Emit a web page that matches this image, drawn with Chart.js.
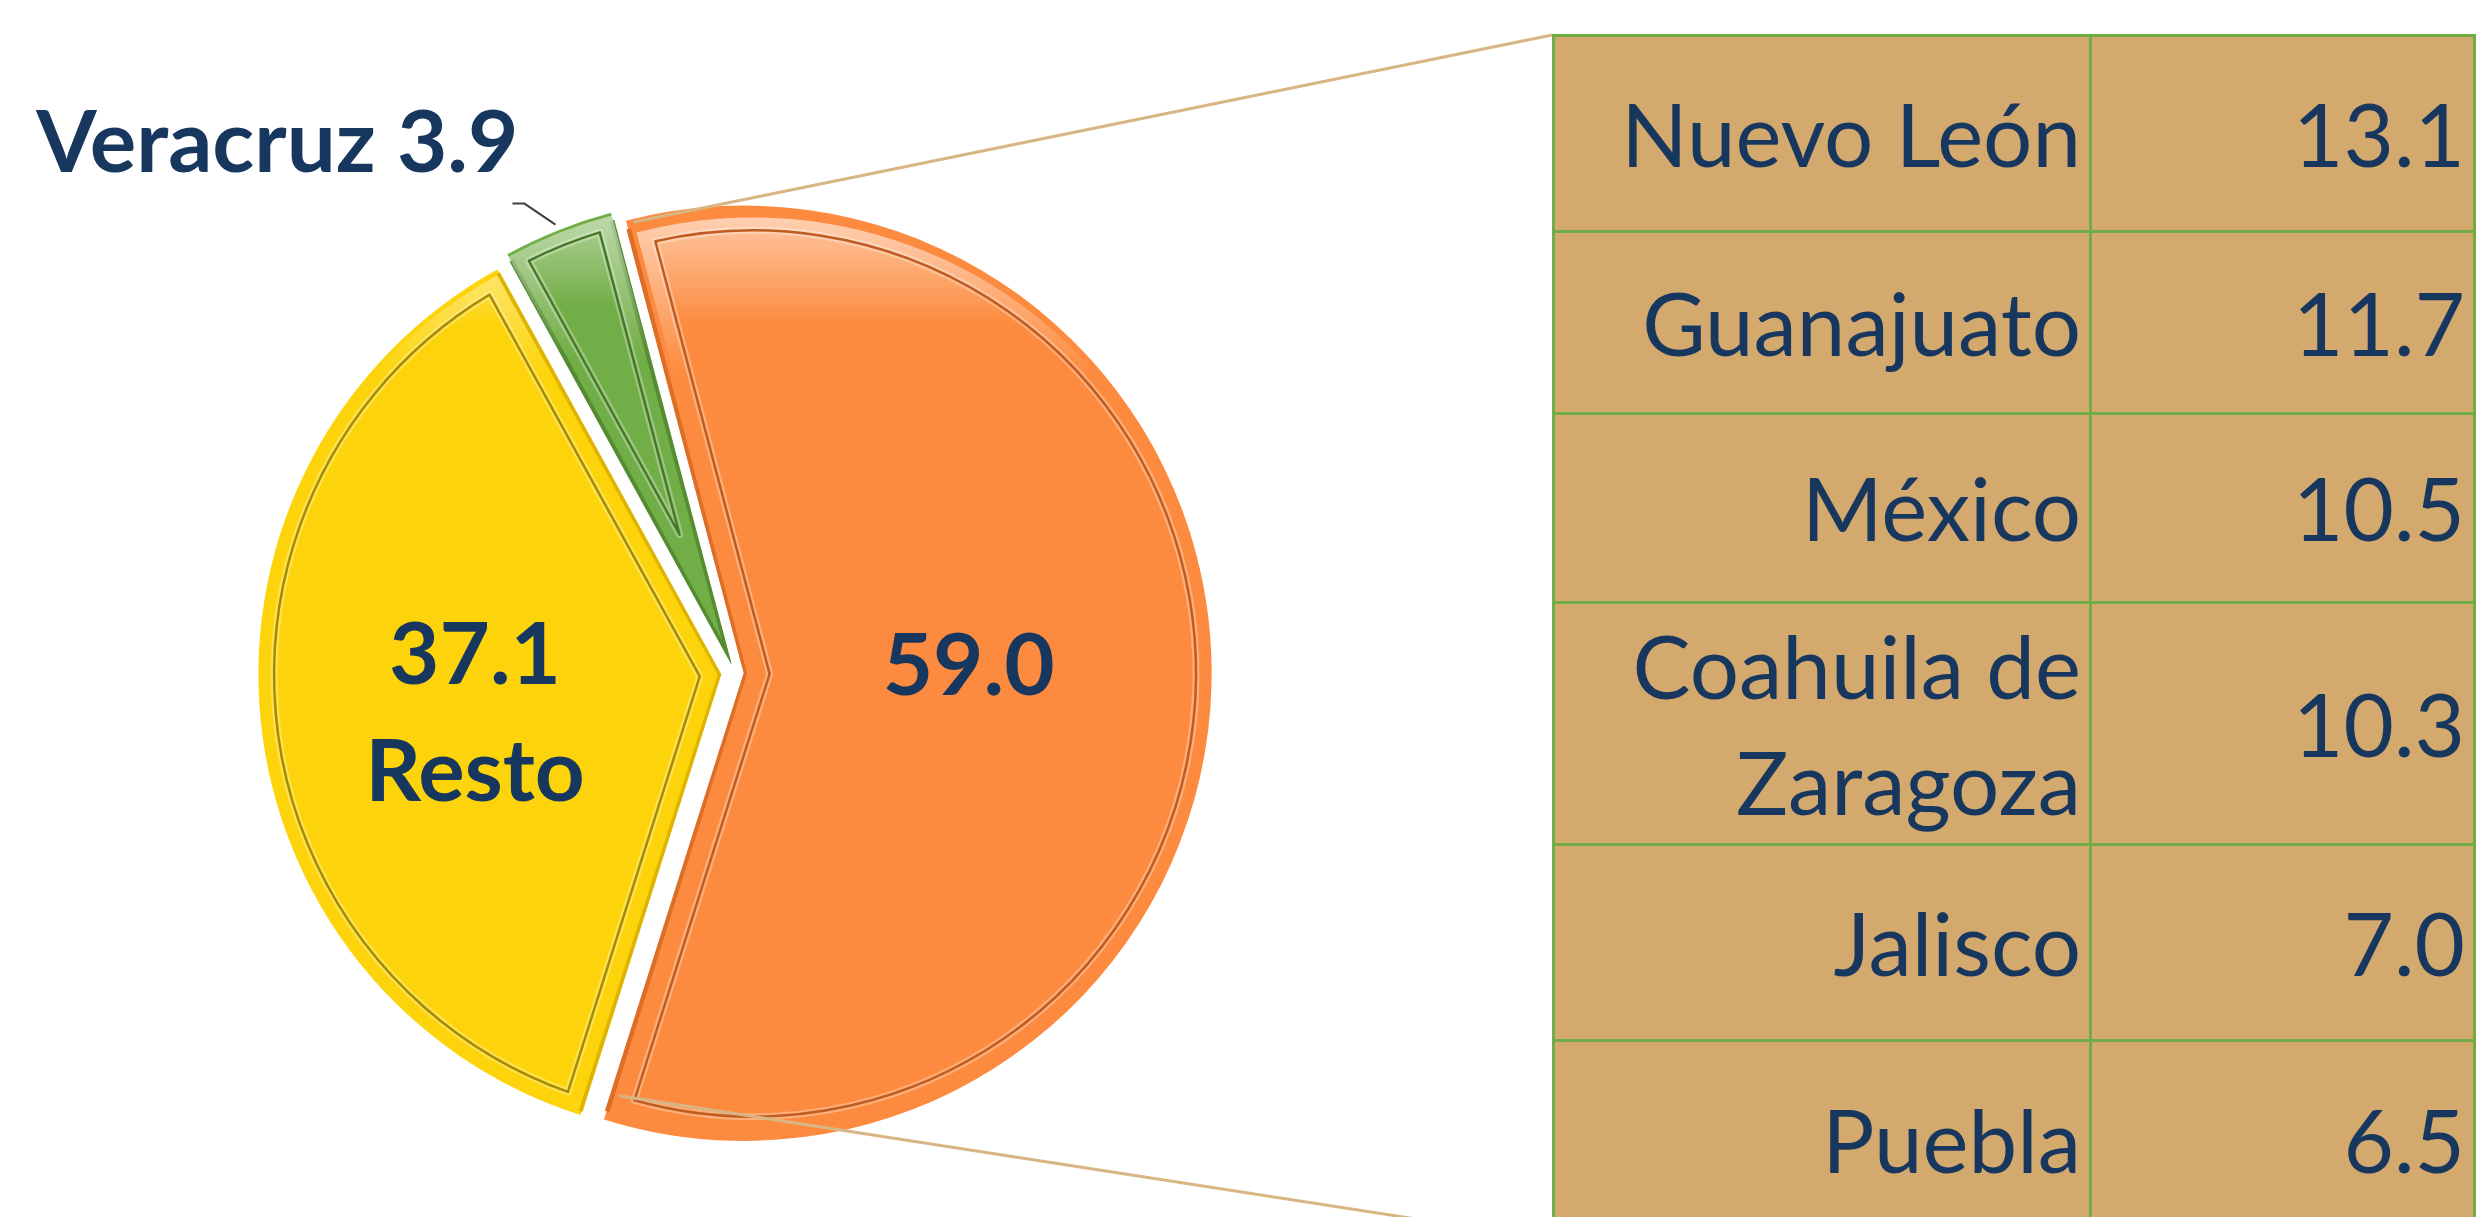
<!DOCTYPE html>
<html lang="es">
<head>
<meta charset="utf-8">
<title>Participación por entidad federativa</title>
<script src="https://cdn.jsdelivr.net/npm/chart.js@4.4.1/dist/chart.umd.min.js"></script>
<style>
    html, body {
        margin: 0;
        padding: 0;
        background: #ffffff;
        overflow: hidden;
    }
    body {
        position: relative;
        width: 2490px;
        height: 1217px;
        font-family: Lato, 'Open Sans', sans-serif;
    }
    #chartBox {
        position: absolute;
        left: 0;
        top: 0;
        width: 2490px;
        height: 1217px;
    }
    #stateTable {
        position: absolute;
        left: 1552px;
        top: 34px;
        width: 921px;
        table-layout: fixed;
        border-collapse: collapse;
        background: #D3A96E;
        color: #17375E;
        font-size: 87px;
        z-index: 2;
    }
    #stateTable td {
        border: 3px solid #70AD47;
        text-align: right;
        vertical-align: middle;
        padding: 0 8px 0 0;
        line-height: 116px;
    }
    #stateTable tr:nth-child(1) td { height: 193px; }
    #stateTable tr:nth-child(2) td { height: 179px; }
    #stateTable tr:nth-child(3) td { height: 186px; }
    #stateTable tr:nth-child(4) td { height: 239px; }
    #stateTable tr:nth-child(5) td { height: 193px; }
    #stateTable tr:nth-child(6) td { height: 195px; }
</style>
</head>
<body>
<div id="chartBox"><canvas id="pieChart"></canvas></div>
<table id="stateTable">
    <colgroup><col style="width:537px"><col style="width:384px"></colgroup>
    <tbody id="stateRows"></tbody>
</table>

<script>
// Pie slices (clockwise from the top)
const sliceNames = ['Seis entidades', 'Resto', 'Veracruz'];
const sliceValues = [59.0, 37.1, 3.9];

// Break-out table
const tableStates = ['Nuevo León', 'Guanajuato', 'México', 'Coahuila de Zaragoza', 'Jalisco', 'Puebla'];
const tableValues = [13.1, 11.7, 10.5, 10.3, 7.0, 6.5];

const fillColors = ['#FD8B3F', '#FDD40B', '#72AE47'];
const edgeColors = ['#DC6E28', '#DDB500', '#558C31'];
const lineColors = ['#BF5C22', '#A88C00', '#467828'];
const textColor = '#17375E';

const EXPLODE = 18; // px every slice is pulled away from the centre

// Chart.js scales the offset by the slice angle, so undo that to get an even gap
const total = sliceValues.reduce((a, b) => a + b, 0);
const sliceOffsets = sliceValues.map(v => {
    const circ = v / total * Math.PI * 2;
    const fix = 1 - Math.sin(Math.min(Math.PI, circ));
    return 4 * EXPLODE / (1 + fix);
});

// Fill the table
const tbody = document.getElementById('stateRows');
tableStates.forEach((name, i) => {
    const tr = document.createElement('tr');
    const tdName = document.createElement('td');
    const tdVal = document.createElement('td');
    tdName.textContent = name;
    tdVal.textContent = tableValues[i].toFixed(1);
    tr.appendChild(tdName);
    tr.appendChild(tdVal);
    tbody.appendChild(tr);
});

// where Chart.js actually puts the tip of an exploded slice
function apexOf(arc) {
    const mid = (arc.startAngle + arc.endAngle) / 2;
    const circ = arc.endAngle - arc.startAngle;
    const fix = 1 - Math.sin(Math.min(Math.PI, circ));
    const d = (arc.options.offset || 0) / 4 * (1 + fix);
    return { x: arc.x + Math.cos(mid) * d, y: arc.y + Math.sin(mid) * d, mid: mid };
}

// path of the slice shrunk inward by d px
function insetPath(arc, d) {
    const a = apexOf(arc);
    const a1 = arc.startAngle, a2 = arc.endAngle;
    const pd = d / Math.sin((a2 - a1) / 2);
    const r2 = arc.outerRadius - d;
    const f1 = a1 + Math.asin(d / r2);
    const f2 = a2 - Math.asin(d / r2);
    const p = new Path2D();
    p.moveTo(a.x + Math.cos(a.mid) * pd, a.y + Math.sin(a.mid) * pd);
    p.lineTo(a.x + Math.cos(f1) * r2, a.y + Math.sin(f1) * r2);
    p.arc(a.x, a.y, r2, f1, f2);
    p.closePath();
    return p;
}

// inner outline + gloss to fake the bevelled look
function drawBevel(ctx, arc, i) {
    const a = apexOf(arc);
    const R = arc.outerRadius;
    const inner = insetPath(arc, 16);

    const band = new Path2D();
    band.moveTo(a.x, a.y);
    band.arc(a.x, a.y, R - 3, arc.startAngle, arc.endAngle);
    band.closePath();
    band.addPath(inner);

    ctx.save();
    // shine on the rim, strongest at the top
    let g = ctx.createLinearGradient(0, a.y - R, 0, a.y - R + 160);
    g.addColorStop(0, 'rgba(255,255,255,0.6)');
    g.addColorStop(1, 'rgba(255,255,255,0)');
    ctx.fillStyle = g;
    ctx.fill(band, 'evenodd');

    // softer shine just inside the inner outline
    g = ctx.createLinearGradient(0, a.y - R + 16, 0, a.y - R + 110);
    g.addColorStop(0, 'rgba(255,255,255,0.45)');
    g.addColorStop(1, 'rgba(255,255,255,0)');
    ctx.fillStyle = g;
    ctx.fill(inner);

    ctx.lineJoin = 'round';
    ctx.strokeStyle = 'rgba(255,255,255,0.3)';
    ctx.lineWidth = 7;
    ctx.stroke(inner);
    ctx.strokeStyle = lineColors[i];
    ctx.lineWidth = 2.5;
    ctx.stroke(inner);
    ctx.restore();
}

// tan lines from the broken-out slice to the table
function drawConnectors(ctx, arc) {
    const a = apexOf(arc);
    const R = arc.outerRadius;
    const rect = document.getElementById('stateTable').getBoundingClientRect();
    const p1 = { x: a.x + Math.cos(arc.startAngle) * (R + 8), y: a.y + Math.sin(arc.startAngle) * (R + 8) };
    const p2 = { x: a.x + Math.cos(arc.endAngle) * (R - 16), y: a.y + Math.sin(arc.endAngle) * (R - 16) };
    ctx.save();
    ctx.strokeStyle = '#D8B684';
    ctx.lineWidth = 3;
    ctx.beginPath();
    ctx.moveTo(p1.x, p1.y);
    ctx.lineTo(rect.left, rect.top + 1);
    ctx.moveTo(p2.x, p2.y);
    ctx.lineTo(rect.left, rect.bottom);
    ctx.stroke();
    ctx.restore();
}

function drawLabels(ctx, arcs) {
    const size = 87;
    const capHalf = 0.358 * size;
    ctx.save();
    ctx.fillStyle = textColor;
    ctx.font = 'bold ' + size + 'px Lato';
    ctx.textBaseline = 'alphabetic';

    // big slice: just the value
    let a = apexOf(arcs[0]);
    let R = arcs[0].outerRadius;
    let cx = a.x + Math.cos(a.mid) * R * 0.47;
    let cy = a.y + Math.sin(a.mid) * R * 0.47 - 15;
    ctx.textAlign = 'center';
    ctx.fillText(sliceValues[0].toFixed(1), cx, cy + capHalf);

    // "Resto": value over name
    a = apexOf(arcs[1]);
    R = arcs[1].outerRadius;
    cx = a.x + Math.cos(a.mid) * R * 0.53;
    cy = a.y + Math.sin(a.mid) * R * 0.53 + 13;
    ctx.fillText(sliceValues[1].toFixed(1), cx, cy - 58.5 + capHalf);
    ctx.fillText(sliceNames[1], cx, cy + 58.5 + capHalf);

    // thin slice: label outside with a leader line
    a = apexOf(arcs[2]);
    R = arcs[2].outerRadius;
    const end = { x: a.x + Math.cos(a.mid) * (R + 6), y: a.y + Math.sin(a.mid) * (R + 6) };
    const elbow = { x: end.x - 31, y: end.y - 21 };
    const tail = { x: elbow.x - 12, y: elbow.y };
    ctx.strokeStyle = '#404040';
    ctx.lineWidth = 2;
    ctx.beginPath();
    ctx.moveTo(tail.x, tail.y);
    ctx.lineTo(elbow.x, elbow.y);
    ctx.lineTo(end.x, end.y);
    ctx.stroke();
    ctx.textAlign = 'right';
    ctx.fillText(sliceNames[2] + ' ' + sliceValues[2].toFixed(1), tail.x + 6, tail.y - 32);
    ctx.restore();
}

const pieDecor = {
    id: 'pieDecor',
    afterDatasetsDraw(chart) {
        const ctx = chart.ctx;
        const arcs = chart.getDatasetMeta(0).data;
        arcs.forEach((arc, i) => drawBevel(ctx, arc, i));
        drawConnectors(ctx, arcs[0]);
        drawLabels(ctx, arcs);
    }
};

function initChart() {
    const ctx = document.getElementById('pieChart').getContext('2d');
    new Chart(ctx, {
        type: 'pie',
        data: {
            labels: sliceNames,
            datasets: [{
                data: sliceValues,
                backgroundColor: fillColors,
                borderColor: edgeColors,
                borderWidth: 3,
                borderAlign: 'inner',
                borderJoinStyle: 'round',
                offset: sliceOffsets
            }]
        },
        options: {
            responsive: true,
            maintainAspectRatio: false,
            animation: false,
            events: [],
            rotation: -14.8,
            radius: 459,
            layout: { padding: { left: 0, right: 1020, top: 129, bottom: 0 } },
            plugins: {
                legend: { display: false },
                tooltip: { enabled: false }
            }
        },
        plugins: [pieDecor]
    });
}

document.addEventListener('DOMContentLoaded', initChart);
</script>
</body>
</html>
